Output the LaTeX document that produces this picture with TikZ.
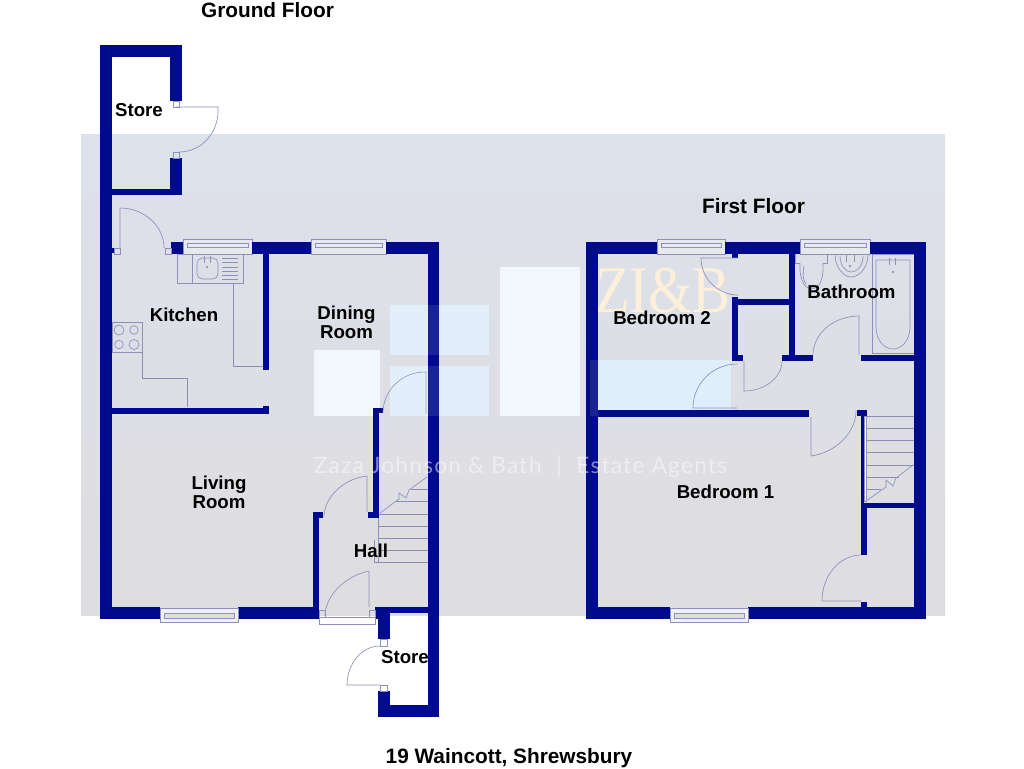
\documentclass[tikz,border=0pt]{standalone}
\usepackage{fontspec}
\setmainfont{Liberation Sans}
\newfontfamily\wmfont[LetterSpace=5.5]{Lato}
\newfontfamily\wmserif{Liberation Serif}
\definecolor{navywall}{HTML}{000A8C}
\definecolor{fitcol}{HTML}{8D90BC}
\definecolor{pale}{HTML}{F2F6FD}
\definecolor{paleblue}{HTML}{DFEEFB}
\definecolor{bgtop}{HTML}{DDE1EA}
\definecolor{bgbot}{HTML}{DEDDE0}
\definecolor{creamwm}{HTML}{FDF0DA}
\newcommand\wall[4]{\fill[navywall] (#1,#2) rectangle (#3,#4);}
\newcommand\doorleaf[6]{\draw[fitline] (#1,#2) -- (#3,#4) .. controls ({#3+.55*(#5-#1)},{#4+.55*(#6-#2)}) and ({#5+.55*(#3-#1)},{#6+.55*(#4-#2)}) .. (#5,#6);}
\newcommand\jamb[4]{\draw[fitline] (#1,#2) rectangle (#3,#4);}
\newcommand\wintop[2]{\draw[fitline,fill=white,fill opacity=.3] (#1,239) rectangle (#2,254);
  \draw[fitline] (#1+4,243.5) rectangle (#2-4,247.5);}
\newcommand\winbot[2]{\fill[white] (#1,608) rectangle (#2,622);
  \draw[fitline,fill=bgbot!40!white] (#1,608) rectangle (#2,622);
  \draw[fitline,fill=bgbot] (#1+4,613) rectangle (#2-4,618);}
\tikzset{
  fitline/.style={draw=fitcol,line width=.5pt},
  greyline/.style={draw=fitcol!85!gray,line width=.5pt},
  lab/.style={font=\fontsize{14}{14.3}\selectfont\bfseries,text=black,align=center,inner sep=0pt},
  title/.style={font=\fontsize{15.6}{16}\selectfont\bfseries,text=black,inner sep=0pt}
}
\begin{document}
\begin{tikzpicture}[x=.75pt,y=-.75pt]
\useasboundingbox (0,0) rectangle (1024,768);
% backdrop
\shade[top color=bgtop, bottom color=bgbot] (81,134) rectangle (945,615);
\fill[pale] (314,350) rectangle (380,416);
\fill[paleblue] (390,305) rectangle (489,355);
\fill[paleblue] (390,366) rectangle (489,416);
\fill[pale] (500,267) rectangle (580,416);
\fill[paleblue] (590,360) rectangle (731,416);
\node[inner sep=0pt,text=creamwm,transform shape,xscale=.85,font=\wmserif\fontsize{50}{50}\selectfont] (zib) at (663,291) {ZI\&B};
% kitchen fittings
\draw[fitline] (177,254) rectangle (243,283);
\draw[fitline] (192,254) -- (192,283);
\draw[fitline,rounded corners=4pt] (197,258) rectangle (218,279);
\draw[fitline] (204,256) -- (204,263) (210,256) -- (210,263);
\draw[fitline] (207,267) circle (1);
\foreach \yy in {258,262,267,271,275,279} \draw[fitline] (222,\yy) -- (238,\yy);
\draw[greyline] (233,283) -- (233,366) -- (263,366);
\draw[fitline] (112,322) rectangle (142,352);
\draw[fitline] (119,330) circle (5) (134,330) circle (4.3) (119,344.5) circle (4.3) (134,344.5) circle (5);
\draw[greyline] (142,352) -- (142,378) -- (187,378) -- (187,407);
% bathroom fittings
\draw[fitline] (795,254) -- (795,263) -- (800,263) (827,254) -- (827,263) -- (823,263);
\draw[fitline] (800,263) .. controls (799,282) and (806,289) .. (812,289) .. controls (818,289) and (824,282) .. (823,263);
\draw[fitline] (804,266) .. controls (802,276) and (804,282) .. (806,284);
\draw[fitline] (835,254) .. controls (835,268) and (844,277) .. (851,277) .. controls (859,277) and (868,268) .. (868,254);
\draw[fitline] (840,256) .. controls (840,266) and (846,272) .. (851,272) .. controls (857,272) and (863,266) .. (863,256);
\draw[fitline] (846,254) -- (846,262) (854,254) -- (854,262);
\draw[fitline] (850,266) circle (1);
\draw[fitline] (872,254) rectangle (914,353);
\draw[fitline] (876,260) -- (910,260) -- (910,327) .. controls (910,340) and (902,349) .. (893,349) .. controls (884,349) and (876,340) .. (876,327) -- cycle;
\draw[fitline] (889,258) -- (889,265) (895,258) -- (895,265);
\draw[fitline] (893,272) circle (1);
% stairs, ground floor
\draw[greyline] (411,489) -- (428,489);
\draw[greyline] (396,501) -- (428,501);
\foreach \yy in {514,526,538,550,562} \draw[greyline] (378,\yy) -- (428,\yy);
\draw[greyline] (374,562) -- (378,562);
\draw[fitline] (378,518) -- (378,562) (374,540) -- (374,562);
\draw[fitline] (380,513) -- (399,499) -- (399,493) -- (406,498) -- (409,490) -- (427,477);
% stairs, first floor
\foreach \yy in {416,428,440,452,465} \draw[greyline] (866,\yy) -- (914,\yy);
\draw[greyline] (866,477) -- (899,477) (866,489) -- (881,489);
\draw[fitline,fill=white] (864,416) rectangle (866,501);
\draw[fitline] (866,501) -- (886,487) -- (886,480) -- (893,486) -- (896,478) -- (913,465);
% windows
\wintop{183}{252}
\wintop{311}{386}
\wintop{657}{725}
\wintop{800}{870}
% walls, ground floor
\wall{100}{45}{112}{619}
\wall{100}{45}{182}{57}
\wall{170}{45}{182}{101}
\wall{170}{158}{182}{195}
\wall{100}{189}{182}{195}
\wall{112}{248}{114}{253}
\wall{171}{242}{183}{254}
\wall{252}{242}{311}{254}
\wall{386}{242}{439}{254}
\wall{428}{242}{439}{717}
\wall{263}{254}{269}{370}
\wall{112}{407.5}{269}{413.5}
\wall{263}{406}{269}{413}
\wall{373}{408}{379}{518}
\wall{373}{408}{383}{413}
\wall{368}{512}{379}{518}
\wall{313}{512}{319}{619}
\wall{313}{512}{323}{518}
\wall{100}{607}{160}{619}
\wall{238}{607}{319}{619}
\wall{375}{607}{439}{613}
\wall{375}{607}{390}{619}
\wall{378}{607}{390}{639}
\wall{378}{691}{390}{717}
\wall{378}{705}{439}{717}
% walls, first floor
\wall{586}{242}{598}{619}
\wall{586}{242}{657}{254}
\wall{725}{242}{800}{254}
\wall{870}{242}{926}{254}
\wall{914}{242}{926}{619}
\wall{732}{254}{738}{258}
\wall{732}{297}{738}{361}
\wall{732}{355}{743}{361}
\wall{738}{299}{789}{305}
\wall{789}{254}{795}{361}
\wall{782}{355}{813}{361}
\wall{861}{355}{914}{361}
\wall{598}{410}{809}{417}
\wall{857}{410}{867}{416}
\wall{861}{416}{864}{503}
\wall{861}{503}{867}{555}
\wall{861}{503}{914}{508}
\wall{861}{602}{867}{613}
\wall{586}{607}{670}{619}
\wall{748}{607}{926}{619}
\winbot{160}{238}
\winbot{670}{748}
% doors
\doorleaf{176}{107}{218}{107}{179}{152}
\jamb{173}{101}{179}{107}
\jamb{173}{152}{179}{158}
\doorleaf{120}{248}{120}{208}{164}{248}
\jamb{114}{248}{120}{254}
\jamb{165}{248}{171}{254}
\doorleaf{426}{414}{426}{372}{383}{413}
\doorleaf{367}{512}{367}{476}{324}{517}
\doorleaf{369}{607}{369}{571}{325}{616}
\jamb{319}{610}{325}{617}
\jamb{369}{610}{375}{617}
\draw[fitline,fill=white] (319,617) rectangle (375,624);
\doorleaf{380}{685}{347}{685}{380}{646}
\jamb{380}{639}{387}{646}
\jamb{380}{685}{387}{691}
\doorleaf{738}{258}{701}{258}{738}{295}
\doorleaf{737}{408}{693}{408}{737}{364}
\doorleaf{744}{361}{744}{391}{782}{361}
\doorleaf{859}{355}{859}{316}{813}{355}
\doorleaf{811}{417}{811}{456}{856}{411}
\doorleaf{861}{601}{822}{601}{861}{555}
% watermark veil over walls
\fill[white,opacity=.1] (390,305) rectangle (489,355);
\fill[white,opacity=.1] (390,366) rectangle (489,416);
\fill[white,opacity=.1] (590,360) rectangle (598,416);
\node[inner sep=0pt,text=white,opacity=.5,font=\wmfont\fontsize{17}{17}\selectfont,anchor=center] (wm) at (520.5,467) {Zaza Johnson \& Bath\,\, | \,\,Estate Agents};
% labels
\node[title] (gf) at (267.5,10) {Ground Floor};
\node[title] (ff) at (753.5,206) {First Floor};
\node[title] (addr) at (509,758) {19 Waincott, Shrewsbury};
\node[lab] (st1) at (139,110) {Store};
\node[lab] (kit) at (184,315) {Kitchen};
\node[lab] (din) at (346.5,322) {Dining\\Room};
\node[lab] (liv) at (219,492.5) {Living\\Room};
\node[lab] (hall) at (371,551) {Hall};
\node[lab] (st2) at (405,657) {Store};
\node[lab] (bd2) at (662,318) {Bedroom 2};
\node[lab] (bath) at (851.5,292) {Bathroom};
\node[lab] (bd1) at (725.5,492) {Bedroom 1};
\end{tikzpicture}
\end{document}
